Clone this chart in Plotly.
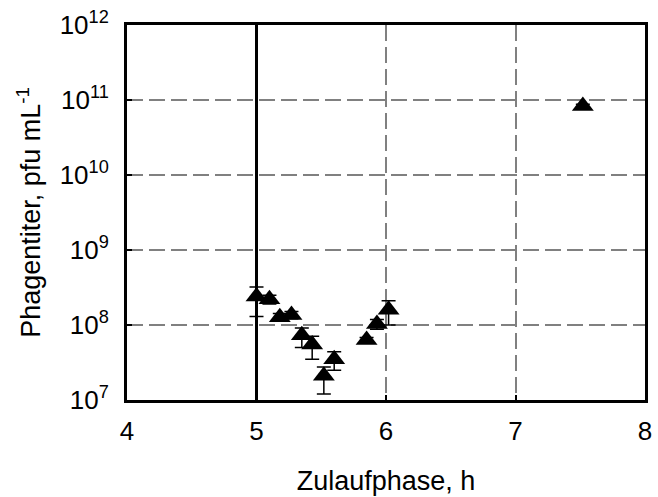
import plotly.graph_objects as go

time_h = [5.0, 5.10, 5.18, 5.27, 5.35, 5.43, 5.52, 5.60, 5.85, 5.93, 6.02, 7.52]
titer = [2.4e8, 2.2e8, 1.27e8, 1.36e8, 7.3e7, 5.5e7, 2.1e7, 3.5e7, 6.3e7, 1.03e8, 1.6e8, 8.3e10]
err_plus = [0.8e8, 0.3e8, 0.15e8, 0.15e8, 1.8e7, 1.6e7, 0.65e7, 0.9e7, 0.5e7, 0.15e8, 0.5e8, 0.5e10]
err_minus = [1.1e8, 0.3e8, 0.15e8, 0.15e8, 2.3e7, 2.0e7, 0.9e7, 1.0e7, 0.5e7, 0.15e8, 0.6e8, 0.5e10]

y_tickvals = [1e7, 1e8, 1e9, 1e10, 1e11, 1e12]
y_ticktext = ["10<sup>7</sup>", "10<sup>8</sup>", "10<sup>9</sup>", "10<sup>10</sup>", "10<sup>11</sup>", "10<sup>12</sup>"]
x_tickvals = [4, 5, 6, 7, 8]
feed_start = 5.0
y_title = "Phagentiter, pfu mL<sup>-1</sup>"
x_title = "Zulaufphase, h"

fig = go.Figure()
fig.add_trace(go.Scatter(
    x=time_h, y=titer, mode="markers",
    marker=dict(symbol="triangle-up", size=19, color="black"),
    error_y=dict(type="data", symmetric=False, array=err_plus, arrayminus=err_minus,
                 color="black", thickness=1.5, width=7),
    showlegend=False,
))
fig.add_shape(type="line", x0=feed_start, x1=feed_start, y0=0, y1=1, yref="paper",
              line=dict(color="black", width=3))

font = dict(family="Liberation Sans, Arial, sans-serif", size=26, color="black")
grid = dict(showgrid=True, gridcolor="#808080", griddash="16px,6px", gridwidth=1.5,
            showline=True, linecolor="black", linewidth=3, mirror=True,
            ticks="inside", ticklen=5, tickcolor="black", tickwidth=2, zeroline=False)
fig.update_layout(
    width=658, height=497,
    margin=dict(l=127, r=6, t=25, b=97),
    paper_bgcolor="white", plot_bgcolor="white",
    font=font,
    xaxis=dict(range=[4, 8], tickvals=x_tickvals, tickfont=dict(size=26),
               ticklabelstandoff=6,
               title=dict(text=x_title, standoff=26, font=dict(size=27)), **grid),
    yaxis=dict(type="log", range=[7, 12], tickvals=y_tickvals, ticktext=y_ticktext,
               tickfont=dict(size=26), ticklabelstandoff=10, **grid),
)
fig.add_annotation(text=y_title, textangle=-90, xref="paper", yref="paper",
                   x=(27 - 127) / 525, y=0.5, xanchor="center", yanchor="middle",
                   showarrow=False, font=dict(size=27))
fig.write_html("out.html")
